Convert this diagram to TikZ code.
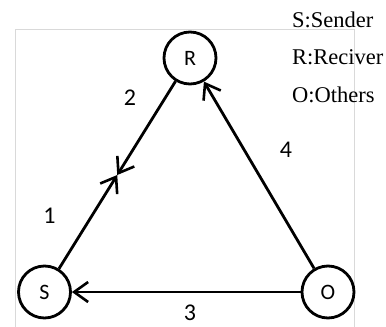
\documentclass[tikz,border=0pt]{standalone}
\usepackage{fontspec}
\setmainfont{Liberation Serif}
\newfontfamily\calib{Carlito}
\usetikzlibrary{arrows.meta,calc}
\begin{document}
\begin{tikzpicture}[x=1pt,y=-1pt,
  party/.style={circle,draw,line width=2.8pt,minimum size=52pt,inner sep=0pt,
    font=\calib\fontsize{22}{22}\selectfont},
  link/.style={line width=2.8pt,-{Straight Barb[length=14pt,width=20pt,line width=2.6pt]}},
  num/.style={inner sep=0pt,font=\calib\fontsize{24}{24}\selectfont},
  legend/.style={anchor=base west,inner sep=0pt,font=\fontsize{22.5}{22.5}\selectfont}]
  \useasboundingbox (0,0) rectangle (386,327);
  % light frame around the drawing area
  \draw[line width=0.8pt,color=black!15] (15,327) -- (15,29) -- (354,29) -- (354,327);

  % the three parties
  \node[party] (R) at (190,58) {R};
  \node[party] (S) at (44.5,292) {S};
  \node[party] (O) at (328,292) {O};

  % S and R meet halfway
  \coordinate (M) at ($(S)!0.5!(R)$);
  \draw[link] (S) -- (M);
  \draw[link] (R) -- (M);
  \draw[link] (O) -- (S);
  \draw[link] (O) -- (R);

  % step numbers
  \node[num] (n1) at (49.5,216) {1};
  \node[num] (n2) at (130,98) {2};
  \node[num] (n3) at (190,313) {3};
  \node[num] (n4) at (286,150) {4};

  % legend
  \node[legend] (l1) at (292,27) {S:Sender};
  \node[legend] (l2) at (292,64) {R:Reciver};
  \node[legend] (l3) at (292,102) {O:Others};
\end{tikzpicture}
\end{document}
